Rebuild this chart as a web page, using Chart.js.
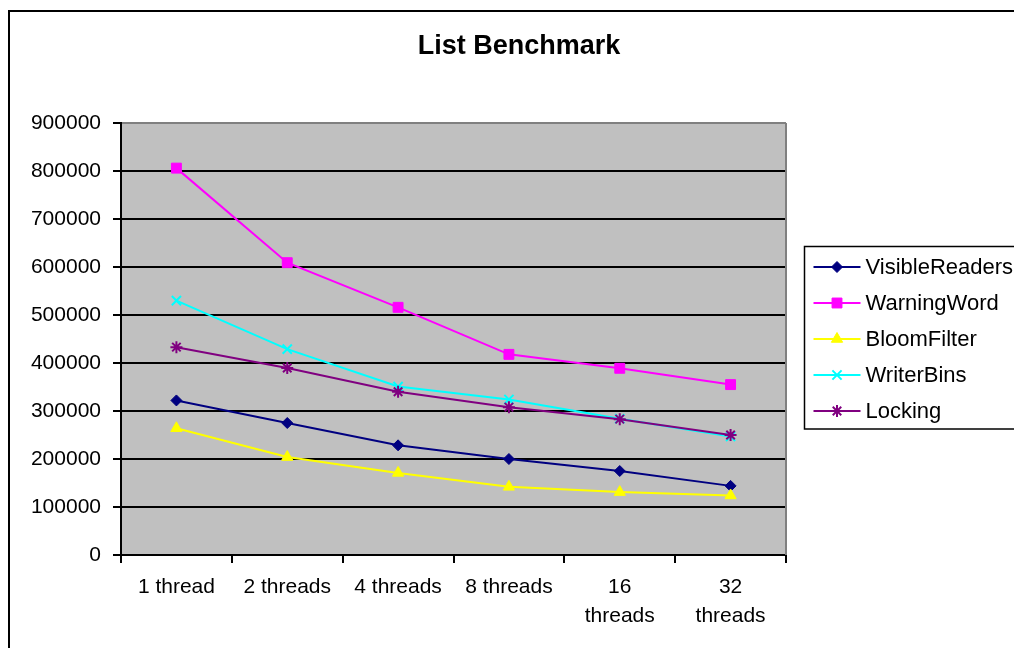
<!DOCTYPE html>
<html>
<head>
<meta charset="utf-8">
<script src="https://cdn.jsdelivr.net/npm/chart.js@4/dist/chart.umd.min.js"></script>
<style>
  html, body { margin: 0; padding: 0; background: #ffffff; }
  #wrap { width: 1014px; height: 648px; }
</style>
</head>
<body>
<div id="wrap"><canvas id="c" width="1014" height="648"></canvas></div>
<script>
const categories = ['1 thread', '2 threads', '4 threads', '8 threads', ['16', 'threads'], ['32', 'threads']];
const seriesNames = ['VisibleReaders', 'WarningWord', 'BloomFilter', 'WriterBins', 'Locking'];
const visibleReaders = [322000, 275000, 228500, 200000, 175000, 144000];
const warningWord = [806000, 609000, 516000, 418000, 389000, 355000];
const bloomFilter = [264000, 204000, 171000, 142000, 131000, 124000];
const writerBins = [530000, 429000, 351000, 324000, 284000, 247000];
const locking = [433000, 389500, 340000, 308000, 283000, 250000];
const yTicks = [0, 100000, 200000, 300000, 400000, 500000, 600000, 700000, 800000, 900000];

const seriesValues = [visibleReaders, warningWord, bloomFilter, writerBins, locking];
const seriesColors = ['#000080', '#FF00FF', '#FFFF00', '#00FFFF', '#800080'];
const seriesStyles = ['rectRot', 'rect', 'triangle', 'crossRot', 'star'];
const seriesRadius = [5.5, 7, 6.5, 6.5, 6];

const FONT = '"Liberation Sans", Arial, sans-serif';

const datasets = seriesNames.map((name, i) => ({
  label: name,
  data: seriesValues[i],
  borderColor: seriesColors[i],
  backgroundColor: seriesColors[i],
  borderWidth: 2,
  pointStyle: seriesStyles[i],
  pointRadius: seriesRadius[i],
  pointBackgroundColor: seriesColors[i],
  pointBorderColor: seriesColors[i],
  pointBorderWidth: (seriesStyles[i] === 'crossRot' || seriesStyles[i] === 'star') ? 2 : 1,
  tension: 0,
  fill: false,
  order: seriesNames.length - i
}));

const framePlugin = {
  id: 'frame',
  beforeDraw(chart) {
    const ctx = chart.ctx, a = chart.chartArea;
    ctx.save();
    ctx.fillStyle = '#ffffff';
    ctx.fillRect(0, 0, chart.width, chart.height);
    ctx.fillStyle = '#C0C0C0';
    ctx.fillRect(a.left, a.top, a.right - a.left, a.bottom - a.top);
    ctx.restore();
  },
  beforeDatasetsDraw(chart) {
    const ctx = chart.ctx, a = chart.chartArea;
    ctx.save();
    ctx.strokeStyle = '#808080';
    ctx.lineWidth = 2;
    ctx.beginPath();
    ctx.moveTo(a.right, a.top);
    ctx.lineTo(a.right, a.bottom);
    ctx.stroke();
    ctx.restore();
  },
  afterDraw(chart) {
    const ctx = chart.ctx, a = chart.chartArea;
    ctx.save();
    // outer frame
    ctx.strokeStyle = '#000000';
    ctx.lineWidth = 2;
    ctx.strokeRect(9, 11, 1100, 1000);
    // legend
    const n = chart.data.datasets.length;
    const rowH = 36;
    const cy = (a.top + a.bottom) / 2;
    const firstY = cy - (n - 1) / 2 * rowH;
    const boxLeft = a.right + 18.5;
    ctx.lineWidth = 1.5;
    ctx.strokeStyle = '#000000';
    ctx.strokeRect(boxLeft, firstY - 20.5, 400, (n - 1) * rowH + 38.5);
    ctx.font = '22px ' + FONT;
    ctx.textBaseline = 'middle';
    ctx.textAlign = 'left';
    chart.data.datasets.forEach((ds, i) => {
      const y = Math.round(firstY + i * rowH);
      const x0 = boxLeft + 9, x1 = boxLeft + 56, xm = (x0 + x1) / 2;
      ctx.strokeStyle = ds.borderColor;
      ctx.lineWidth = 2;
      ctx.beginPath();
      ctx.moveTo(x0, y);
      ctx.lineTo(x1, y);
      ctx.stroke();
      ctx.fillStyle = ds.pointBackgroundColor;
      ctx.strokeStyle = ds.pointBorderColor;
      ctx.lineWidth = ds.pointBorderWidth;
      if (Chart.helpers && Chart.helpers.drawPoint) {
        Chart.helpers.drawPoint(ctx, {
          pointStyle: ds.pointStyle, radius: ds.pointRadius, rotation: 0, borderWidth: ds.pointBorderWidth
        }, xm, y);
      }
      ctx.fillStyle = '#000000';
      ctx.fillText(ds.label, boxLeft + 61, y + 1);
    });
    ctx.restore();
  }
};

new Chart(document.getElementById('c'), {
  type: 'line',
  data: { labels: categories, datasets },
  plugins: [framePlugin],
  options: {
    responsive: false,
    devicePixelRatio: 1,
    animation: false,
    events: [],
    layout: { padding: { left: 24, right: 0, top: 0, bottom: 0 } },
    plugins: {
      legend: { display: false },
      tooltip: { enabled: false },
      title: {
        display: true,
        text: 'List Benchmark',
        color: '#000000',
        font: { family: FONT, size: 27, weight: 'bold', lineHeight: 1.2 },
        padding: { top: 30, bottom: 60.6 }
      }
    },
    scales: {
      x: {
        offset: true,
        grid: { offset: true, drawOnChartArea: false, drawTicks: true, tickLength: 8, color: '#000000', lineWidth: 2 },
        border: { display: true, color: '#000000', width: 2 },
        ticks: {
          color: '#000000', padding: 10, maxRotation: 0, minRotation: 0, autoSkip: false,
          font: { family: FONT, size: 21, lineHeight: 1.38 }
        },
        afterFit(scale) { scale.height = 93; }
      },
      y: {
        min: 0,
        max: 900000,
        afterBuildTicks(scale) { scale.ticks = yTicks.map(v => ({ value: v })); },
        grid: {
          drawTicks: true, tickLength: 8, lineWidth: 2,
          color: ctx => (ctx.tick && ctx.tick.value === 900000) ? '#808080' : '#000000',
          tickColor: '#000000'
        },
        border: { display: true, color: '#000000', width: 2 },
        ticks: {
          color: '#000000', padding: 12,
          font: { family: FONT, size: 21 },
          callback: v => String(v)
        },
        afterFit(scale) { scale.width = 97; }
      },
      y2: {
        position: 'right',
        display: true,
        grid: { display: false, drawTicks: false },
        border: { display: false },
        ticks: { display: false },
        afterFit(scale) { scale.width = 228; }
      }
    }
  }
});
</script>
</body>
</html>
